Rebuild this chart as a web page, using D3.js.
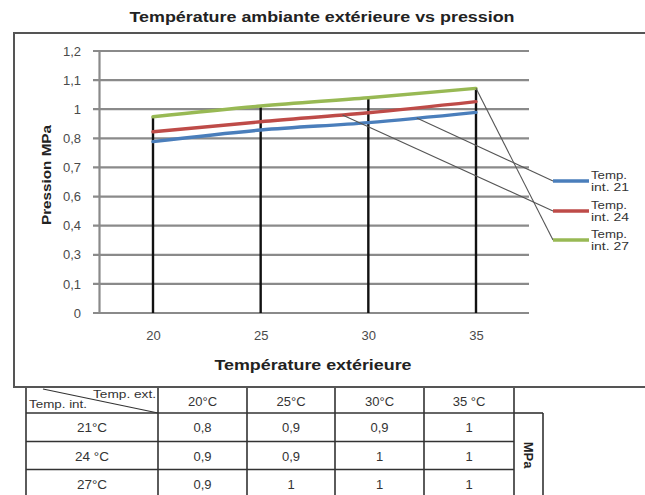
<!DOCTYPE html>
<html><head><meta charset="utf-8">
<script src="https://cdn.jsdelivr.net/npm/d3@7"></script>
<style>
html,body{margin:0;padding:0;background:#fff;}
svg{display:block;font-family:"Liberation Sans",Arial,sans-serif;}
</style></head>
<body>
<svg id="chart" width="645" height="495"></svg>
<script>
// ---- data ----
const categories = [20, 25, 30, 35];
const seriesNames = ["Temp. int. 21", "Temp. int. 24", "Temp. int. 27"];
const legendLine1 = ["Temp.", "Temp.", "Temp."];
const legendLine2 = ["int. 21", "int. 24", "int. 27"];
const valuesInt21 = [0.785, 0.838, 0.872, 0.919];
const valuesInt24 = [0.830, 0.876, 0.917, 0.968];
const valuesInt27 = [0.899, 0.948, 0.986, 1.029];
const seriesColors = ["#4a7ebb", "#be4b48", "#98b954"];
const yTickLabels = ["0", "0,1", "0,3", "0,4", "0,6", "0,7", "0,8", "1", "1,1", "1,2"];
const yMax = 1.2;
const tableHeaders = ["20°C", "25°C", "30°C", "35 °C"];
const tableRowLabels = ["21°C", "24 °C", "27°C"];
const tableValues = [
  ["0,8", "0,9", "0,9", "1"],
  ["0,9", "0,9", "1", "1"],
  ["0,9", "1", "1", "1"]
];
// leader anchor positions (in x-category units) for legend callouts
const leaderAnchors = [32.25, 28.8, 35];

const series = [valuesInt21, valuesInt24, valuesInt27];

(function () {
const svg = d3.select("#chart");
const ff = "Liberation Sans, Arial, sans-serif";

// chart border
svg.append("rect").attr("x", 14).attr("y", 33).attr("width", 700).attr("height", 354)
  .attr("fill", "none").attr("stroke", "#555").attr("stroke-width", 2);

// title
svg.append("text").attr("x", 322).attr("y", 22).attr("text-anchor", "middle")
  .attr("font-weight", "bold").attr("font-size", 15).attr("fill", "#222")
  .attr("textLength", 385).attr("lengthAdjust", "spacingAndGlyphs")
  .text("Température ambiante extérieure vs pression");

const plotL = 99, plotR = 529, plotT = 51, plotB = 313;
const y = d3.scaleLinear().domain([0, yMax]).range([plotB, plotT]);
const x = d3.scalePoint().domain(categories).range([153, 476]);
const xLin = d3.scaleLinear().domain([20, 35]).range([153, 476]);

const tickVals = yTickLabels.map((d, i) => i * yMax / (yTickLabels.length - 1));

// gridlines
svg.append("g").selectAll("line").data(tickVals).join("line")
  .attr("x1", plotL - 6).attr("x2", plotR)
  .attr("y1", d => y(d)).attr("y2", d => y(d))
  .attr("stroke", "#8a8a8a").attr("stroke-width", 2.2);

// y axis
const yAxis = d3.axisLeft(y).tickValues(tickVals).tickSize(0).tickPadding(18)
  .tickFormat((d, i) => yTickLabels[i]);
const gy = svg.append("g").attr("transform", `translate(${plotL},0)`).call(yAxis);
gy.select(".domain").attr("stroke", "#8a8a8a").attr("stroke-width", 2.2);
gy.selectAll("text").attr("font-size", 13).attr("fill", "#4a4a4a").attr("font-family", ff);

// x axis labels
const xAxis = d3.axisBottom(x).tickSize(0).tickPadding(18);
const gx = svg.append("g").attr("transform", `translate(0,${plotB})`).call(xAxis);
gx.select(".domain").remove();
gx.selectAll("text").attr("font-size", 13).attr("fill", "#4a4a4a").attr("font-family", ff);

// axis titles
svg.append("text").attr("x", 313).attr("y", 370).attr("text-anchor", "middle")
  .attr("font-weight", "bold").attr("font-size", 15.5).attr("fill", "#222")
  .attr("textLength", 197).attr("lengthAdjust", "spacingAndGlyphs")
  .text("Température extérieure");
svg.append("text").attr("transform", "translate(51,175) rotate(-90)").attr("text-anchor", "middle")
  .attr("font-weight", "bold").attr("font-size", 13).attr("fill", "#222")
  .attr("textLength", 100).attr("lengthAdjust", "spacingAndGlyphs")
  .text("Pression MPa");

// drop lines from top series to axis
const maxVals = categories.map((c, i) => d3.max(series, s => s[i]));
svg.append("g").selectAll("line").data(categories).join("line")
  .attr("x1", d => x(d)).attr("x2", d => x(d))
  .attr("y1", plotB).attr("y2", (d, i) => y(maxVals[i]))
  .attr("stroke", "#111").attr("stroke-width", 2.4);

// series lines
const line = d3.line().x((d, i) => x(categories[i])).y(d => y(d)).curve(d3.curveMonotoneX);
svg.append("g").selectAll("path").data(series).join("path")
  .attr("d", d => line(d)).attr("fill", "none")
  .attr("stroke", (d, i) => seriesColors[i]).attr("stroke-width", 3.4)
  .attr("stroke-linecap", "round");

// legend with leader lines
const legY = [181, 211, 240];
series.forEach((s, i) => {
  const a = leaderAnchors[i];
  const ax = xLin(a);
  const ay = y(d3.scaleLinear().domain(categories).range(s)(a));
  svg.append("line").attr("x1", ax).attr("y1", ay).attr("x2", 553).attr("y2", legY[i])
    .attr("stroke", "#555").attr("stroke-width", 1.1);
  svg.append("line").attr("x1", 553).attr("x2", 589).attr("y1", legY[i]).attr("y2", legY[i])
    .attr("stroke", seriesColors[i]).attr("stroke-width", 3.6);
  svg.append("text").attr("x", 591).attr("y", legY[i] - 2.5).attr("font-size", 10.5).attr("fill", "#333")
    .attr("textLength", 36).attr("lengthAdjust", "spacingAndGlyphs").text(legendLine1[i]);
  svg.append("text").attr("x", 591).attr("y", legY[i] + 10).attr("font-size", 10.5).attr("fill", "#333")
    .attr("textLength", 38).attr("lengthAdjust", "spacingAndGlyphs").text(legendLine2[i]);
});

// ---- table ----
const colEdges = [26, 158, 247, 335, 424, 514];
const rowEdges = [388, 413, 441.5, 469.5, 498];
const tg = svg.append("g");
const stroke = "#333";
colEdges.forEach(cx => tg.append("line").attr("x1", cx).attr("x2", cx)
  .attr("y1", rowEdges[0]).attr("y2", 495).attr("stroke", stroke).attr("stroke-width", 1.6));
rowEdges.slice(1, 4).forEach(ry => tg.append("line").attr("x1", colEdges[0]).attr("x2", colEdges[5])
  .attr("y1", ry).attr("y2", ry).attr("stroke", stroke).attr("stroke-width", 1.6));
tg.append("line").attr("x1", 514).attr("x2", 543).attr("y1", 413).attr("y2", 413)
  .attr("stroke", stroke).attr("stroke-width", 1.6);
tg.append("line").attr("x1", 543).attr("x2", 543).attr("y1", 413).attr("y2", 495)
  .attr("stroke", stroke).attr("stroke-width", 1.6);
tg.append("text").attr("transform", "translate(524,455) rotate(90)").attr("text-anchor", "middle")
  .attr("font-weight", "bold").attr("font-size", 13).attr("fill", "#222").text("MPa");
tg.append("line").attr("x1", 43).attr("y1", 389).attr("x2", 158).attr("y2", 413)
  .attr("stroke", stroke).attr("stroke-width", 1.2);
tg.append("text").attr("x", 29).attr("y", 408).attr("font-size", 11.5).attr("fill", "#333")
  .attr("textLength", 58).attr("lengthAdjust", "spacingAndGlyphs").text("Temp. int.");
tg.append("text").attr("x", 93).attr("y", 398).attr("font-size", 11.5)
  .attr("fill", "#333").attr("textLength", 63).attr("lengthAdjust", "spacingAndGlyphs").text("Temp. ext.");
tableHeaders.forEach((h, j) => tg.append("text")
  .attr("x", (colEdges[j + 1] + colEdges[j + 2]) / 2).attr("y", 406)
  .attr("text-anchor", "middle").attr("font-size", 13).attr("fill", "#333").text(h));
tableRowLabels.forEach((r, i) => {
  const cy = (rowEdges[i + 1] + rowEdges[i + 2]) / 2 + 5;
  tg.append("text").attr("x", (colEdges[0] + colEdges[1]) / 2).attr("y", cy)
    .attr("text-anchor", "middle").attr("font-size", 13.5).attr("fill", "#333").text(r);
  tableValues[i].forEach((v, j) => tg.append("text")
    .attr("x", (colEdges[j + 1] + colEdges[j + 2]) / 2).attr("y", cy)
    .attr("text-anchor", "middle").attr("font-size", 13).attr("fill", "#333").text(v));
});
})();
</script>
</body></html>
